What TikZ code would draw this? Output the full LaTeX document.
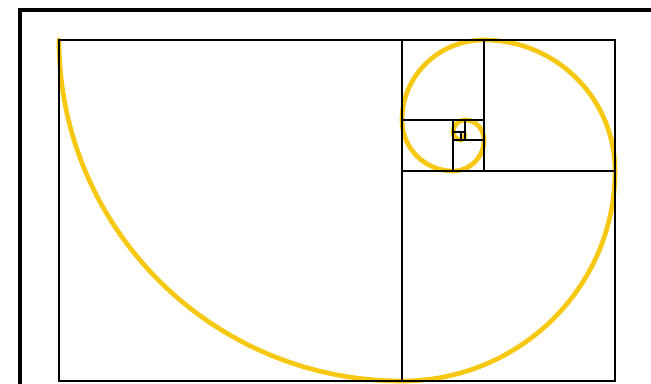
\documentclass[tikz,border=0pt]{standalone}
\usepackage{tikz}
\definecolor{spiralgold}{RGB}{247,200,18}
\begin{document}
\begin{tikzpicture}[x=0.03cm, y=0.03cm,
    frame/.style={line width=3.6pt, line cap=rect},
    square/.style={line width=1.4pt},
    spiral/.style={draw=spiralgold, line width=4pt, line cap=round}]
    \useasboundingbox (0,0) rectangle (651,383);

    % golden spiral, one quarter arc per square
    \draw[spiral] (59,343)
        arc[start angle=180, end angle=270, x radius=343, y radius=341]
        arc[start angle=270, end angle=360, x radius=213, y radius=210]
        arc[start angle=0, end angle=90, radius=131]
        arc[start angle=90, end angle=180, x radius=82, y radius=80]
        arc[start angle=180, end angle=270, radius=51]
        arc[start angle=270, end angle=360, radius=31]
        arc[start angle=0, end angle=90, x radius=19, y radius=20]
        arc[start angle=90, end angle=180, radius=12]
        arc[start angle=180, end angle=270, radius=8]
        arc[start angle=270, end angle=360, x radius=4, y radius=5];

    % golden rectangle and its squares
    \draw[square] (59,2) rectangle (615,343);
    \draw[square] (402,2) -- (402,343);
    \draw[square] (402,212) -- (615,212);
    \draw[square] (484,212) -- (484,343);
    \draw[square] (402,263) -- (484,263);
    \draw[square] (453,212) -- (453,263);
    \draw[square] (453,243) -- (484,243);
    \draw[square] (465,243) -- (465,263);
    \draw[square] (453,251) -- (465,251);
    \draw[square] (461,243) -- (461,251);

    % outer frame
    \draw[frame] (20,0) -- (20,373) -- (651,373);
\end{tikzpicture}
\end{document}
